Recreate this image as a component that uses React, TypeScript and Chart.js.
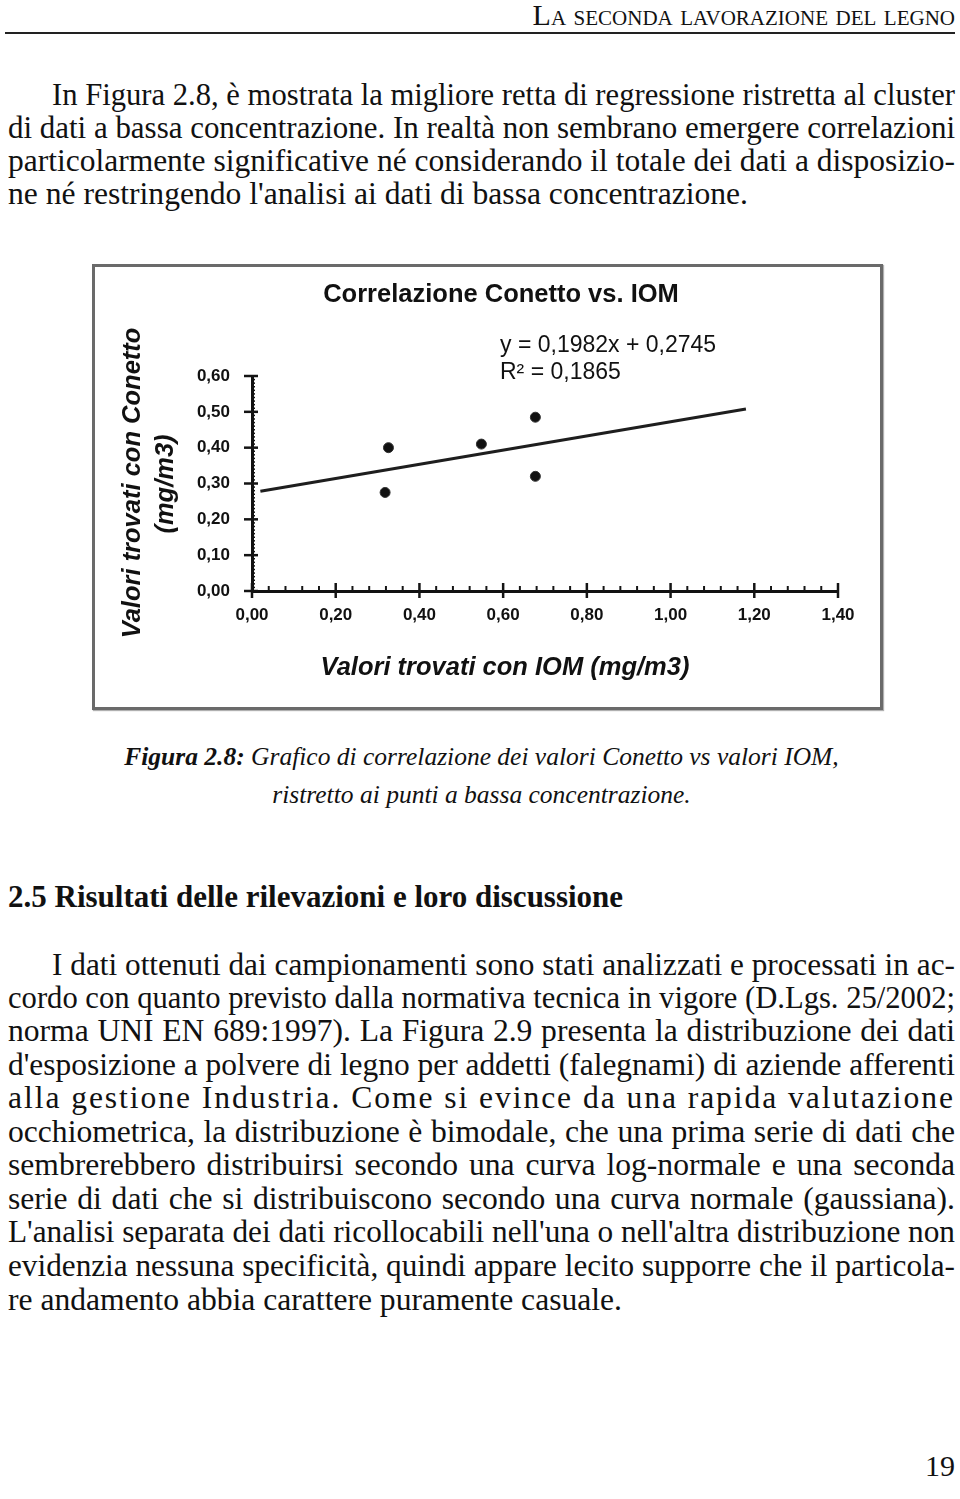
import React, { useEffect, useLayoutEffect, useRef } from "react";
import { Chart, registerables } from "chart.js";

Chart.register(...registerables);

// ---- data ----
const iomValues = [0.318, 0.326, 0.548, 0.677, 0.677];
const conettoValues = [0.275, 0.4, 0.41, 0.485, 0.32];
const trendX = [0.02, 1.18];
const trendY = [0.2785, 0.508];
const xTickValues = [0, 0.2, 0.4, 0.6, 0.8, 1.0, 1.2, 1.4];
const yTickValues = [0, 0.1, 0.2, 0.3, 0.4, 0.5, 0.6];
const chartTitle = "Correlazione Conetto vs. IOM";
const equationText = "y = 0,1982x + 0,2745";
const r2Text = "R² = 0,1865";
const xAxisTitle = "Valori trovati con IOM (mg/m3)";
const yAxisTitleLines = ["Valori trovati con Conetto", "(mg/m3)"];

const headerText = "La seconda lavorazione del legno";
const para1 = [
  "In Figura 2.8, è mostrata la migliore retta di regressione ristretta al cluster",
  "di dati a bassa concentrazione. In realtà non sembrano emergere correlazioni",
  "particolarmente significative né considerando il totale dei dati a disposizio-",
  "ne né restringendo l'analisi ai dati di bassa concentrazione.",
];
const captionBold = "Figura 2.8:";
const captionLine1 = " Grafico di correlazione dei valori Conetto vs valori IOM,";
const captionLine2 = "ristretto ai punti a bassa concentrazione.";
const headingText = "2.5 Risultati delle rilevazioni e loro discussione";
const para2 = [
  "I dati ottenuti dai campionamenti sono stati analizzati e processati in ac-",
  "cordo con quanto previsto dalla normativa tecnica in vigore (D.Lgs. 25/2002;",
  "norma UNI EN 689:1997). La Figura 2.9 presenta la distribuzione dei dati",
  "d'esposizione a polvere di legno per addetti (falegnami) di aziende afferenti",
  "alla gestione Industria. Come si evince da una rapida valutazione",
  "occhiometrica, la distribuzione è bimodale, che una prima serie di dati che",
  "sembrerebbero distribuirsi secondo una curva log-normale e una seconda",
  "serie di dati che si distribuiscono secondo una curva normale (gaussiana).",
  "L'analisi separata dei dati ricollocabili nell'una o nell'altra distribuzione non",
  "evidenzia nessuna specificità, quindi appare lecito supporre che il particola-",
  "re andamento abbia carattere puramente casuale.",
];
const pageNumber = "19";

const SERIF = "'Liberation Serif', 'DejaVu Serif', serif";
const SANS = "'Liberation Sans', Arial, sans-serif";

const fmt = (v: number) => Number(v).toFixed(2).replace(".", ",");

const decorPlugin = {
  id: "decor",
  afterDraw(chart: any) {
    const ctx = chart.ctx as CanvasRenderingContext2D;
    const xs = chart.scales.x;
    const ys = chart.scales.y;
    const ax = xs.getPixelForValue(0);
    const ay = ys.getPixelForValue(0);
    ctx.save();
    ctx.strokeStyle = "#141414";
    // x-axis ticks: majors every 0.2 crossing, minors every 0.04 upward
    for (let i = 0; i <= 35; i++) {
      const px = xs.getPixelForValue(i * 0.04);
      ctx.beginPath();
      if (i % 5 === 0) {
        ctx.lineWidth = 2.5;
        ctx.moveTo(px, ay - 8);
        ctx.lineTo(px, ay + 7);
      } else {
        ctx.lineWidth = 2;
        ctx.moveTo(px, ay - 5);
        ctx.lineTo(px, ay);
      }
      ctx.stroke();
    }
    // y-axis ticks: majors every 0.1 crossing, minors every 0.01
    for (let i = 0; i <= 60; i++) {
      const py = ys.getPixelForValue(i * 0.01);
      ctx.beginPath();
      if (i % 10 === 0) {
        ctx.lineWidth = 2.5;
        ctx.moveTo(ax - 8, py);
        ctx.lineTo(ax + 6, py);
      } else {
        ctx.lineWidth = 1.5;
        ctx.moveTo(ax, py);
        ctx.lineTo(ax + 3, py);
      }
      ctx.stroke();
    }
    // texts
    ctx.fillStyle = "#111";
    ctx.textBaseline = "middle";
    ctx.textAlign = "center";
    ctx.font = `bold 25.5px ${SANS}`;
    ctx.fillText(chartTitle, 406, 28);
    ctx.textAlign = "left";
    ctx.font = `23px ${SANS}`;
    ctx.fillText(equationText, 405, 79);
    ctx.fillText(r2Text, 405, 106);
    ctx.textAlign = "center";
    ctx.font = `italic bold 25.5px ${SANS}`;
    ctx.fillText(xAxisTitle, 410, 401);
    ctx.save();
    ctx.translate(38, 216);
    ctx.rotate(-Math.PI / 2);
    ctx.fillText(yAxisTitleLines[0], 0, 0);
    ctx.restore();
    ctx.save();
    ctx.translate(71, 217);
    ctx.rotate(-Math.PI / 2);
    ctx.fillText(yAxisTitleLines[1], 0, 0);
    ctx.restore();
    ctx.restore();
  },
};

function ScatterChart() {
  const ref = useRef<HTMLCanvasElement>(null);
  useEffect(() => {
    if (!ref.current) return;
    const tickFont = { family: "Liberation Sans", weight: "bold" as const, size: 17 };
    const chart = new Chart(ref.current, {
      type: "scatter",
      data: {
        datasets: [
          {
            type: "line",
            data: trendX.map((x, i) => ({ x, y: trendY[i] })),
            borderColor: "#1e1e1e",
            borderWidth: 3,
            pointRadius: 0,
            fill: false,
          } as any,
          {
            type: "scatter",
            data: iomValues.map((x, i) => ({ x, y: conettoValues[i] })),
            pointRadius: 5,
            pointHoverRadius: 5,
            backgroundColor: "#111",
            borderColor: "#333",
            borderWidth: 1,
          },
        ],
      },
      options: {
        responsive: false,
        animation: false,
        devicePixelRatio: 1,
        layout: { padding: { left: 97, right: 42, top: 109, bottom: 76 } },
        plugins: {
          legend: { display: false },
          tooltip: { enabled: false },
          title: { display: false },
        },
        scales: {
          x: {
            type: "linear",
            min: 0,
            max: 1.4,
            afterBuildTicks: (s: any) => {
              s.ticks = xTickValues.map((v) => ({ value: v }));
            },
            afterFit: (s: any) => {
              s.height = 40;
            },
            grid: { display: false, drawTicks: false },
            border: { display: true, color: "#111", width: 3 },
            ticks: {
              padding: 14,
              color: "#111",
              font: tickFont,
              maxRotation: 0,
              autoSkip: false,
              callback: (v: any) => fmt(v),
            },
          },
          y: {
            type: "linear",
            min: 0,
            max: 0.6,
            afterBuildTicks: (s: any) => {
              s.ticks = yTickValues.map((v) => ({ value: v }));
            },
            afterFit: (s: any) => {
              s.width = 60;
            },
            grid: { display: false, drawTicks: false },
            border: { display: true, color: "#111", width: 3 },
            ticks: {
              padding: 22,
              color: "#111",
              font: tickFont,
              autoSkip: false,
              callback: (v: any) => fmt(v),
            },
          },
        },
      },
      plugins: [decorPlugin],
    });
    return () => chart.destroy();
  }, []);
  return (
    <canvas
      ref={ref}
      width={785}
      height={440}
      style={{ position: "absolute", left: 95, top: 267, width: 785, height: 440 }}
    />
  );
}

type JProps = {
  text: string;
  left: number;
  right: number;
  center: number;
  size?: number;
  last?: boolean;
  letter?: boolean;
};

function JLine({ text, left, right, center, size = 31.6, last, letter }: JProps) {
  const ref = useRef<HTMLSpanElement>(null);
  useLayoutEffect(() => {
    const el = ref.current;
    if (!el) return;
    el.style.wordSpacing = "0px";
    el.style.letterSpacing = "0px";
    el.style.transform = "none";
    const natural = el.getBoundingClientRect().width;
    const target = right - left;
    if (last) {
      if (natural > target) el.style.transform = `scaleX(${target / natural})`;
      return;
    }
    const extra = target - natural;
    const spaces = (text.match(/ /g) || []).length;
    if (extra < 0) {
      el.style.transform = `scaleX(${target / natural})`;
    } else if (letter) {
      el.style.letterSpacing = extra / text.length + "px";
    } else if (spaces) {
      el.style.wordSpacing = extra / spaces + "px";
    }
  }, [text, left, right, last, letter]);
  return (
    <div
      style={{
        position: "absolute",
        left,
        top: center - 17,
        height: 34,
        lineHeight: "34px",
        fontSize: size,
        fontFamily: SERIF,
        whiteSpace: "nowrap",
        color: "#111",
      }}
    >
      <span ref={ref} style={{ display: "inline-block", transformOrigin: "left center" }}>
        {text}
      </span>
    </div>
  );
}

export default function App() {
  const p1Centers = [95, 128, 161, 194];
  const p2Centers = [965, 998, 1031, 1065, 1098, 1132, 1165, 1199, 1232, 1266, 1300];
  return (
    <div style={{ position: "absolute", left: 0, top: 0, width: 960, height: 1499, overflow: "hidden" }}>
      <div
        style={{
          position: "absolute",
          left: 0,
          top: -2,
          width: 955,
          textAlign: "right",
          fontFamily: SERIF,
          fontSize: 30,
          lineHeight: "34px",
          fontVariant: "small-caps",
          whiteSpace: "nowrap",
          color: "#111",
        }}
      >
        {headerText}
      </div>
      <div style={{ position: "absolute", left: 5, top: 32, width: 950, height: 2, background: "#222" }} />

      {para1.map((t, i) => (
        <JLine
          key={"p1" + i}
          text={t}
          left={i === 0 ? 52 : 8}
          right={955}
          center={p1Centers[i]}
          last={i === para1.length - 1}
        />
      ))}

      <div
        style={{
          position: "absolute",
          left: 92,
          top: 264,
          width: 791,
          height: 446,
          boxSizing: "border-box",
          border: "3px solid #6a6a6a",
          boxShadow: "1px 1px 1px #b0b0b0",
          background: "#fff",
        }}
      />
      <ScatterChart />

      <div
        style={{
          position: "absolute",
          left: 8,
          width: 947,
          top: 757 - 17,
          lineHeight: "34px",
          textAlign: "center",
          fontFamily: SERIF,
          fontStyle: "italic",
          fontSize: 25.5,
          whiteSpace: "nowrap",
          color: "#111",
        }}
      >
        <b>{captionBold}</b>
        {captionLine1}
      </div>
      <div
        style={{
          position: "absolute",
          left: 8,
          width: 947,
          top: 795 - 17,
          lineHeight: "34px",
          textAlign: "center",
          fontFamily: SERIF,
          fontStyle: "italic",
          fontSize: 25.5,
          whiteSpace: "nowrap",
          color: "#111",
        }}
      >
        {captionLine2}
      </div>

      <div
        style={{
          position: "absolute",
          left: 8,
          top: 897 - 17,
          lineHeight: "34px",
          fontFamily: SERIF,
          fontWeight: "bold",
          fontSize: 31,
          whiteSpace: "nowrap",
          color: "#111",
        }}
      >
        {headingText}
      </div>

      {para2.map((t, i) => (
        <JLine
          key={"p2" + i}
          text={t}
          left={i === 0 ? 52 : 8}
          right={955}
          center={p2Centers[i]}
          last={i === para2.length - 1}
          letter={i === 4}
        />
      ))}

      <div
        style={{
          position: "absolute",
          left: 0,
          width: 955,
          top: 1466 - 17,
          lineHeight: "34px",
          textAlign: "right",
          fontFamily: SERIF,
          fontSize: 30,
          color: "#111",
        }}
      >
        {pageNumber}
      </div>
    </div>
  );
}
